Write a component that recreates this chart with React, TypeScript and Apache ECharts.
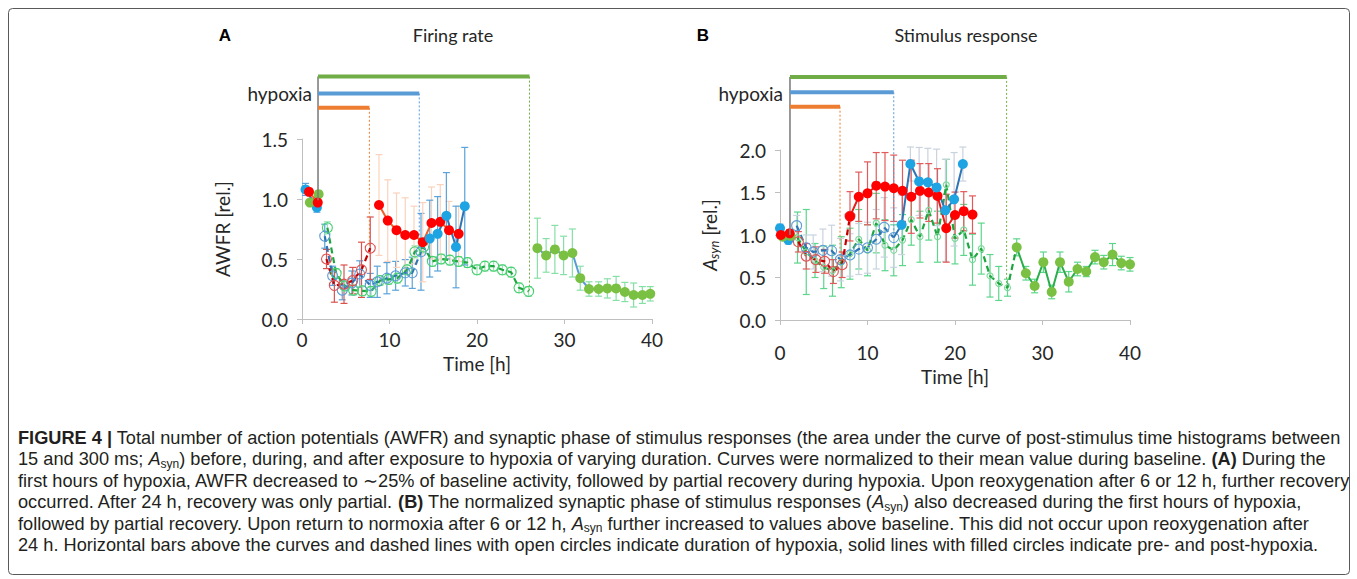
import React, { useEffect, useRef } from "react";
import * as echarts from "echarts";

// ---------- Panel A: firing rate (AWFR) ----------
const aPreBlueT = [0.4, 1.7];
const aPreBlueV = [1.08, 0.93];
const aPreBlueE = [0.05, 0.04];
const aPreRedT = [0.8, 1.8];
const aPreRedV = [1.06, 0.97];
const aPreRedE = [0.03, 0.03];
const aPreGreenT = [0.9, 1.9];
const aPreGreenV = [0.97, 1.04];
const aPreGreenE = [0.02, 0.02];

const aHypRedT = [2.8, 3.7, 4.8, 5.8, 6.8, 7.8];
const aHypRedV = [0.5, 0.28, 0.29, 0.32, 0.41, 0.59];
const aHypRedE = [0.08, 0.14, 0.16, 0.11, 0.23, 0.26];

const aHypBlueT = [2.6, 3.5, 4.6, 5.7, 6.6, 7.8, 8.6, 9.7, 10.7, 11.8, 12.6, 13.6];
const aHypBlueV = [0.69, 0.36, 0.24, 0.3, 0.375, 0.28, 0.31, 0.34, 0.36, 0.385, 0.385, 0.56];
const aHypBlueE = [0.1, 0.08, 0.08, 0.1, 0.11, 0.1, 0.13, 0.13, 0.12, 0.11, 0.13, 0.32];

const aHypGreenT = [2.9, 3.9, 4.9, 5.9, 6.9, 7.9, 8.9, 9.9, 10.9, 12.0, 12.9, 13.9, 14.9, 15.9, 16.9, 17.9, 18.9, 20.0, 20.9, 21.9, 22.9, 23.9, 24.8, 25.9];
const aHypGreenV = [0.76, 0.38, 0.275, 0.24, 0.235, 0.23, 0.32, 0.33, 0.34, 0.41, 0.56, 0.6, 0.48, 0.5, 0.49, 0.48, 0.47, 0.41, 0.44, 0.44, 0.41, 0.39, 0.26, 0.23];
const aHypGreenE = [0.05, 0.04, 0.04, 0.04, 0.04, 0.04, 0.04, 0.04, 0.04, 0.04, 0.05, 0.05, 0.04, 0.04, 0.04, 0.04, 0.04, 0.04, 0.04, 0.04, 0.04, 0.04, 0.04, 0.04];

const aPostRedT = [8.8, 9.8, 10.8, 11.8, 12.8, 13.8, 14.8, 15.8, 16.8, 17.9];
const aPostRedV = [0.95, 0.82, 0.74, 0.7, 0.7, 0.64, 0.8, 0.81, 0.74, 0.71];
const aPostRedE = [0.42, 0.34, 0.31, 0.31, 0.24, 0.33, 0.3, 0.31, 0.24, 0.23];

const aPostBlueT = [14.6, 15.5, 16.5, 17.6, 18.6];
const aPostBlueV = [0.67, 0.71, 0.86, 0.6, 0.94];
const aPostBlueE = [0.32, 0.31, 0.36, 0.34, 0.49];

const aPostGreenT = [26.9, 27.9, 28.9, 29.9, 30.9, 31.8, 32.8, 33.9, 34.9, 35.9, 36.9, 37.9, 38.9, 39.8];
const aPostGreenV = [0.59, 0.53, 0.58, 0.53, 0.55, 0.34, 0.25, 0.25, 0.255, 0.255, 0.225, 0.2, 0.2, 0.21];
const aPostGreenE = [0.25, 0.14, 0.2, 0.16, 0.2, 0.1, 0.06, 0.06, 0.08, 0.1, 0.08, 0.1, 0.07, 0.06];

// hypoxia periods (h): onset and ends for 6 h / 12 h / 24 h
const aOnset = 1.83;
const aEnds = [7.7, 13.4, 26.0];

// ---------- Panel B: stimulus response (A_syn) ----------
const bPreBlueT = [0.0, 0.95];
const bPreBlueV = [1.08, 0.94];
const bPreBlueE = [0.05, 0.05];
const bPreRedT = [0.1, 1.1];
const bPreRedV = [1.0, 1.02];
const bPreRedE = [0.04, 0.04];
const bPreGreenT = [0.3, 1.2];
const bPreGreenV = [0.98, 0.99];
const bPreGreenE = [0.03, 0.03];

const bHypRedT = [2.1, 3.0, 4.1, 5.1, 6.1, 7.1];
const bHypRedV = [0.92, 0.75, 0.71, 0.69, 0.57, 0.65];
const bHypRedE = [0.12, 0.15, 0.15, 0.14, 0.14, 0.15];

const bHypBlueT = [1.9, 3.0, 3.8, 4.9, 5.9, 6.9, 8.0, 9.0, 10.0, 11.0, 11.9, 13.0];
const bHypBlueV = [1.11, 0.85, 0.8, 0.82, 0.815, 0.71, 0.765, 0.835, 0.85, 0.95, 1.09, 0.97];
const bHypBlueE = [0.12, 0.15, 0.2, 0.25, 0.3, 0.25, 0.25, 0.3, 0.3, 0.35, 0.35, 0.35];

const bHypGreenT = [2, 3, 4, 5, 6, 7, 8, 9, 10, 11, 12, 13, 14, 15, 16, 17, 18, 19, 20, 21, 22, 23, 24, 25, 26];
const bHypGreenV = [0.97, 0.8, 0.7, 0.62, 0.58, 0.68, 0.78, 0.95, 0.82, 1.14, 0.88, 0.82, 0.94, 1.18, 0.98, 1.29, 0.98, 1.59, 0.96, 1.06, 0.71, 0.84, 0.52, 0.43, 0.38];
const bHypGreenE = [0.3, 0.5, 0.2, 0.25, 0.3, 0.3, 0.3, 0.35, 0.3, 0.35, 0.3, 0.3, 0.3, 0.3, 0.3, 0.35, 0.3, 0.3, 0.3, 0.3, 0.3, 0.3, 0.25, 0.2, 0.1];

const bPostRedT = [8, 9, 10, 11, 12, 13, 14, 15, 16, 17, 18, 19, 20, 21, 22];
const bPostRedV = [1.22, 1.45, 1.49, 1.58, 1.57, 1.55, 1.52, 1.45, 1.52, 1.5, 1.46, 1.08, 1.235, 1.28, 1.24];
const bPostRedE = [0.29, 0.29, 0.37, 0.39, 0.4, 0.39, 0.36, 0.43, 0.32, 0.34, 0.32, 0.4, 0.27, 0.23, 0.22];

const bPostBlueT = [13.9, 14.9, 15.9, 16.9, 17.9, 18.9, 19.9, 20.9];
const bPostBlueV = [1.12, 1.835, 1.63, 1.62, 1.56, 1.29, 1.42, 1.835];
const bPostBlueE = [0.35, 0.2, 0.4, 0.4, 0.45, 0.6, 0.55, 0.2];

const bPostGreenT = [27.05, 28.1, 29.1, 30.1, 31.05, 32, 33, 34, 35, 36, 37, 38, 39, 40];
const bPostGreenV = [0.855, 0.55, 0.4, 0.68, 0.33, 0.68, 0.45, 0.6, 0.57, 0.74, 0.68, 0.77, 0.67, 0.655];
const bPostGreenE = [0.1, 0.08, 0.08, 0.12, 0.08, 0.12, 0.12, 0.08, 0.06, 0.08, 0.08, 0.13, 0.08, 0.08];

const bOnset = 1.14;
const bEnds = [6.86, 13.0, 25.9];

// axis ticks
const xTicks = [0, 10, 20, 30, 40];
const aYTicks = [0, 0.5, 1.0, 1.5];
const bYTicks = [0, 0.5, 1.0, 1.5, 2.0];

const captionLines = [
  "{b|FIGURE 4 |} Total number of action potentials (AWFR) and synaptic phase of stimulus responses (the area under the curve of post-stimulus time histograms between",
  "15 and 300 ms; {i|A}{s|syn}) before, during, and after exposure to hypoxia of varying duration. Curves were normalized to their mean value during baseline. {b|(A)} During the",
  "first hours of hypoxia, AWFR decreased to \u223c25% of baseline activity, followed by partial recovery during hypoxia. Upon reoxygenation after 6 or 12 h, further recovery",
  "occurred. After 24 h, recovery was only partial. {b|(B)} The normalized synaptic phase of stimulus responses ({i|A}{s|syn}) also decreased during the first hours of hypoxia,",
  "followed by partial recovery. Upon return to normoxia after 6 or 12 h, {i|A}{s|syn} further increased to values above baseline. This did not occur upon reoxygenation after",
  "24 h. Horizontal bars above the curves and dashed lines with open circles indicate duration of hypoxia, solid lines with filled circles indicate pre- and post-hypoxia.",
];

// ---------- styling constants ----------
const FONT = "Lato, 'Open Sans', sans-serif";
const CAP_FONT = "'Liberation Sans', Arial, sans-serif";
const CAP_SIZE = 18.2;
const CAP_LH = 21;
const TXT = "#262626";
const AX = "#bfbfbf";
const C = {
  barGreen: "#70ad47",
  barBlue: "#5b9bd5",
  barOrange: "#ed7d31",
  onset: "#7f7f7f",
  blueMk: "#1ea3e3",
  blueLn: "#2e75b6",
  redMk: "#ff0000",
  redLnA: "#f0602a",
  redLnB: "#e3201b",
  greenMk: "#7ac143",
  greenLnB: "#2aae4a",
  greenLnA: "#5b9bd5",
  blueOpen: "#5b9bd5",
  redOpen: "#e05252",
  greenOpen: "#45cf6f",
  blueDash: "#2e75b6",
  redDash: "#c00000",
  greenDash: "#1fa53f",
};

function zip(t: number[], v: number[]) {
  return t.map((x, i) => [x, v[i]]);
}

function errSeries(ax: number, t: number[], v: number[], e: number[], color: string, width = 1.2, cap = 3.5) {
  return {
    type: "custom",
    xAxisIndex: ax,
    yAxisIndex: ax,
    z: 1,
    silent: true,
    clip: false,
    data: t.map((x, i) => [x, v[i] - e[i], v[i] + e[i]]),
    encode: { x: 0, y: [1, 2] },
    renderItem: (_p: any, api: any) => {
      const lo = api.coord([api.value(0), api.value(1)]);
      const hi = api.coord([api.value(0), api.value(2)]);
      const st = { stroke: color, lineWidth: width };
      return {
        type: "group",
        children: [
          { type: "line", shape: { x1: lo[0], y1: lo[1], x2: hi[0], y2: hi[1] }, style: st },
          { type: "line", shape: { x1: hi[0] - cap, y1: hi[1], x2: hi[0] + cap, y2: hi[1] }, style: st },
          { type: "line", shape: { x1: lo[0] - cap, y1: lo[1], x2: lo[0] + cap, y2: lo[1] }, style: st },
        ],
      };
    },
  };
}

function filled(ax: number, t: number[], v: number[], mk: string, ln: string, size = 10, lw = 2) {
  return {
    type: "line",
    xAxisIndex: ax,
    yAxisIndex: ax,
    z: 4,
    silent: true,
    clip: false,
    data: zip(t, v),
    symbol: "circle",
    symbolSize: size,
    itemStyle: { color: mk, borderColor: mk, borderWidth: 0 },
    lineStyle: { color: ln, width: lw },
  };
}

function open(ax: number, t: number[], v: number[], mk: string, ln: string, size = 10, lw = 2.2) {
  return {
    type: "line",
    xAxisIndex: ax,
    yAxisIndex: ax,
    z: 3,
    silent: true,
    clip: false,
    data: zip(t, v),
    symbol: "circle",
    symbolSize: size,
    itemStyle: { color: "rgba(255,255,255,0)", borderColor: mk, borderWidth: 1.1 },
    lineStyle: { color: ln, width: lw, type: [6, 4] },
  };
}

function seg(ax: number, pts: number[][], color: string, width: number, type: any = "solid", z = 2) {
  return {
    type: "line",
    xAxisIndex: ax,
    yAxisIndex: ax,
    z,
    silent: true,
    clip: false,
    symbol: "none",
    data: pts,
    lineStyle: { color, width, type },
  };
}

function hypoxiaBars(ax: number, onset: number, ends: number[], levels: number[], dropTo: number[], onsetBottom: number) {
  const cols = [C.barOrange, C.barBlue, C.barGreen];
  const out: any[] = [];
  out.push(seg(ax, [[onset, levels[2]], [onset, onsetBottom]], C.onset, 1.6, "solid", 5));
  ends.forEach((end, i) => {
    out.push(seg(ax, [[onset, levels[i]], [end, levels[i]]], cols[i], 4, "solid", 5));
    out.push(seg(ax, [[end, levels[i]], [end, dropTo[i]]], cols[i], 1, [2, 2], 1));
  });
  return out;
}

function xAxisCfg(gi: number, labelMargin: number, nameGap: number) {
  return {
    type: "value",
    gridIndex: gi,
    min: 0,
    max: 40,
    interval: 10,
    name: "Time [h]",
    nameLocation: "middle",
    nameGap,
    nameTextStyle: { fontFamily: FONT, fontSize: 19, color: TXT },
    axisLine: { show: true, onZero: false, lineStyle: { color: AX, width: 1 } },
    axisTick: { show: true, length: 5, lineStyle: { color: AX } },
    axisLabel: { fontFamily: FONT, fontSize: 19, color: TXT, margin: labelMargin, customValues: xTicks },
    splitLine: { show: false },
  };
}

function yAxisCfg(gi: number, max: number, name: string, nameGap: number, ticks: number[]) {
  return {
    type: "value",
    gridIndex: gi,
    min: 0,
    max,
    interval: 0.5,
    name,
    nameLocation: "middle",
    nameGap,
    nameTextStyle: {
      fontFamily: FONT,
      fontSize: 19,
      color: TXT,
      rich: {
        i: { fontFamily: FONT, fontSize: 19, fontStyle: "italic", color: TXT },
        s: { fontFamily: FONT, fontSize: 13, fontStyle: "italic", color: TXT, verticalAlign: "bottom", lineHeight: 22 },
      },
    },
    axisLine: { show: true, lineStyle: { color: AX, width: 1 } },
    axisTick: { show: true, length: 5, lineStyle: { color: AX } },
    axisLabel: {
      fontFamily: FONT,
      fontSize: 19,
      color: TXT,
      margin: 14,
      customValues: ticks,
      formatter: (v: number) => v.toFixed(1),
    },
    splitLine: { show: false },
  };
}

export default function App() {
  const ref = useRef<HTMLDivElement>(null);
  useEffect(() => {
    if (!ref.current) return;
    const chart = echarts.init(ref.current, null, { renderer: "svg" });

    const series: any[] = [
      // Panel A
      ...hypoxiaBars(0, aOnset, aEnds, [1.76, 1.88, 2.02], [0.6, 0.56, 0.23], 0.99),
      errSeries(0, aPreBlueT, aPreBlueV, aPreBlueE, "#5ba3d9"),
      errSeries(0, aPreRedT, aPreRedV, aPreRedE, "#e88"),
      errSeries(0, aPreGreenT, aPreGreenV, aPreGreenE, "#8d8"),
      errSeries(0, aHypBlueT, aHypBlueV, aHypBlueE, "#5ba3d9"),
      errSeries(0, aHypRedT, aHypRedV, aHypRedE, "#d9534f"),
      errSeries(0, aHypGreenT, aHypGreenV, aHypGreenE, "#9be3b2"),
      errSeries(0, aPostRedT, aPostRedV, aPostRedE, "#fbd3bc"),
      errSeries(0, aPostBlueT, aPostBlueV, aPostBlueE, "#5ba3d9"),
      errSeries(0, aPostGreenT, aPostGreenV, aPostGreenE, "#86e0a6"),
      open(0, aHypGreenT, aHypGreenV, C.greenOpen, C.greenDash, 10),
      open(0, aHypBlueT, aHypBlueV, C.blueOpen, C.blueDash, 10),
      open(0, aHypRedT, aHypRedV, C.redOpen, C.redDash, 10),
      filled(0, aPreBlueT, aPreBlueV, C.blueMk, C.blueLn),
      filled(0, aPreGreenT, aPreGreenV, C.greenMk, C.greenLnB),
      filled(0, aPreRedT, aPreRedV, C.redMk, C.redLnA),
      filled(0, aPostRedT, aPostRedV, C.redMk, C.redLnA),
      filled(0, aPostBlueT, aPostBlueV, C.blueMk, C.blueLn),
      filled(0, aPostGreenT, aPostGreenV, C.greenMk, C.greenLnA),

      // Panel B
      ...hypoxiaBars(1, bOnset, bEnds, [2.51, 2.68, 2.86], [0.65, 1.0, 0.38], 1.0),
      errSeries(1, bHypGreenT, bHypGreenV, bHypGreenE, "#5cd68a"),
      errSeries(1, bHypBlueT, bHypBlueV, bHypBlueE, "#c9d2de"),
      errSeries(1, bPostBlueT, bPostBlueV, bPostBlueE, "#c9d2de"),
      errSeries(1, bHypRedT, bHypRedV, bHypRedE, "#e35a5a"),
      errSeries(1, bPostRedT, bPostRedV, bPostRedE, "#e35a5a"),
      errSeries(1, bPostGreenT, bPostGreenV, bPostGreenE, "#5cd68a"),
      errSeries(1, bPreBlueT, bPreBlueV, bPreBlueE, "#c9d2de"),
      errSeries(1, bPreRedT, bPreRedV, bPreRedE, "#e35a5a"),
      errSeries(1, bPreGreenT, bPreGreenV, bPreGreenE, "#5cd68a"),
      open(1, bHypGreenT.concat([bPostGreenT[0]]), bHypGreenV.concat([bPostGreenV[0]]), "#7cd99a", C.greenDash, 6),
      open(1, bHypBlueT, bHypBlueV, C.blueOpen, C.blueDash, 10),
      open(1, bHypRedT.concat([bPostRedT[0]]), bHypRedV.concat([bPostRedV[0]]), C.redOpen, C.redDash, 10),
      filled(1, bPreBlueT, bPreBlueV, C.blueMk, C.blueLn),
      filled(1, bPreGreenT, bPreGreenV, C.greenMk, C.greenLnB),
      filled(1, bPreRedT, bPreRedV, C.redMk, C.redLnB),
      filled(1, bPostRedT, bPostRedV, C.redMk, C.redLnB),
      filled(1, [bHypBlueT[bHypBlueT.length - 1]].concat(bPostBlueT), [bHypBlueV[bHypBlueV.length - 1]].concat(bPostBlueV), C.blueMk, C.blueLn),
      filled(1, bPostGreenT, bPostGreenV, C.greenMk, C.greenLnB),
    ];
    // hide the marker on the connecting open point of the blue solid line in B
    const blueB = series[series.length - 2];
    blueB.data = blueB.data.map((d: number[], i: number) => (i === 0 ? { value: d, symbol: "none" } : d));

    const caption = captionLines.map((line, i) => ({
      type: "text",
      x: 18,
      y: 438 + i * 21.4,
      silent: true,
      style: {
        text: line,
        fontFamily: CAP_FONT,
        fontSize: CAP_SIZE,
        lineHeight: CAP_LH,
        fill: "#231f20",
        verticalAlign: "middle",
        rich: {
          b: { fontFamily: CAP_FONT, fontSize: CAP_SIZE, lineHeight: CAP_LH, fontWeight: "bold", fill: "#231f20" },
          i: { fontFamily: CAP_FONT, fontSize: CAP_SIZE, lineHeight: CAP_LH, fontStyle: "italic", fill: "#231f20" },
          s: { fontFamily: CAP_FONT, fontSize: 12, fill: "#231f20", verticalAlign: "bottom", lineHeight: CAP_LH },
        },
      },
    }));

    chart.setOption({
      animation: false,
      backgroundColor: "#ffffff",
      grid: [
        { left: 302, top: 139, width: 350, height: 180, containLabel: false },
        { left: 780, top: 150, width: 350, height: 170, containLabel: false },
      ],
      xAxis: [xAxisCfg(0, 11, 35), xAxisCfg(1, 23, 47)],
      yAxis: [
        yAxisCfg(0, 1.5, "AWFR [rel.]", 70, aYTicks),
        yAxisCfg(1, 2.0, "{i|A}{s|syn} [rel.]", 60, bYTicks),
      ],
      series,
      graphic: [
        {
          type: "rect",
          silent: true,
          shape: { x: 8.5, y: 8.5, width: 1341, height: 566, r: 4 },
          style: { fill: "none", stroke: "#595959", lineWidth: 1 },
        },
        { type: "text", silent: true, x: 225, y: 35, style: { text: "A", fontFamily: "'Liberation Sans', Arial", fontWeight: "bold", fontSize: 17, fill: "#000", align: "center", verticalAlign: "middle" } },
        { type: "text", silent: true, x: 703, y: 35, style: { text: "B", fontFamily: "'Liberation Sans', Arial", fontWeight: "bold", fontSize: 17, fill: "#000", align: "center", verticalAlign: "middle" } },
        { type: "text", silent: true, x: 453, y: 35, style: { text: "Firing rate", fontFamily: FONT, fontSize: 18, fill: TXT, align: "center", verticalAlign: "middle" } },
        { type: "text", silent: true, x: 966, y: 35, style: { text: "Stimulus response", fontFamily: FONT, fontSize: 18, fill: TXT, align: "center", verticalAlign: "middle" } },
        { type: "text", silent: true, x: 312, y: 93, style: { text: "hypoxia", fontFamily: FONT, fontSize: 19, fill: TXT, align: "right", verticalAlign: "middle" } },
        { type: "text", silent: true, x: 783, y: 93, style: { text: "hypoxia", fontFamily: FONT, fontSize: 19, fill: TXT, align: "right", verticalAlign: "middle" } },
        ...caption,
      ],
    });
    return () => chart.dispose();
  }, []);
  return <div ref={ref} style={{ position: "fixed", left: 0, top: 0, width: 1357, height: 579 }} />;
}
